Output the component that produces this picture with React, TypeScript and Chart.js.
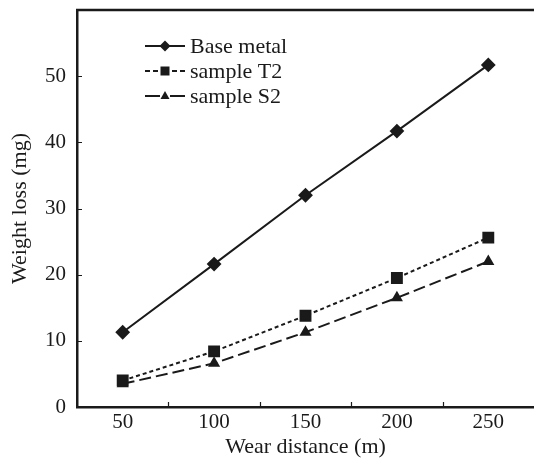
import React, { useEffect, useRef } from "react";
import { Chart, registerables } from "chart.js";

Chart.register(...registerables);

const distances = [50, 100, 150, 200, 250];
const baseMetal = [11.3, 21.6, 32.0, 41.7, 51.7];
const sampleT2 = [4.0, 8.4, 13.8, 19.5, 25.6];
const sampleS2 = [3.5, 6.6, 11.3, 16.5, 22.0];
const seriesNames = ["Base metal", "sample T2", "sample S2"];
const xMinorTicks = [75, 125, 175, 225];
const yTickValues = [10, 20, 30, 40, 50];

const FONT = "'Liberation Serif', 'Times New Roman', serif";
const INK = "#1a1a1a";

const decorPlugin = {
  id: "decor",
  afterDraw(chart: any) {
    const { ctx, chartArea } = chart;
    const xs = chart.scales.x;
    const ys = chart.scales.y;
    ctx.save();
    ctx.strokeStyle = INK;
    // top border
    ctx.lineWidth = 2.5;
    ctx.beginPath();
    ctx.moveTo(chartArea.left - 1, chartArea.top);
    ctx.lineTo(chartArea.right, chartArea.top);
    ctx.stroke();
    // inward ticks
    ctx.lineWidth = 1.2;
    ctx.beginPath();
    for (const v of yTickValues) {
      const y = Math.round(ys.getPixelForValue(v)) + 0.5;
      ctx.moveTo(chartArea.left, y);
      ctx.lineTo(chartArea.left + 5, y);
    }
    for (const v of xMinorTicks) {
      const x = Math.round(xs.getPixelForValue(v)) + 0.5;
      ctx.moveTo(x, chartArea.bottom);
      ctx.lineTo(x, chartArea.bottom - 5);
    }
    ctx.stroke();

    // legend
    const rows = [46, 71, 96];
    const x0 = 145, x1 = 185, xm = 165;
    chart.data.datasets.forEach((ds: any, i: number) => {
      const y = rows[i];
      ctx.strokeStyle = INK;
      ctx.fillStyle = INK;
      ctx.lineWidth = 2;
      ctx.beginPath();
      if (i === 2) {
        ctx.moveTo(x0, y);
        ctx.lineTo(xm - 5, y);
        ctx.moveTo(xm + 5, y);
        ctx.lineTo(x1, y);
      } else if (i === 1) {
        ctx.moveTo(x0, y); ctx.lineTo(x0 + 5, y);
        ctx.moveTo(x0 + 8, y); ctx.lineTo(x0 + 13, y);
        ctx.moveTo(x1 - 13, y); ctx.lineTo(x1 - 8, y);
        ctx.moveTo(x1 - 5, y); ctx.lineTo(x1, y);
      } else {
        ctx.moveTo(x0, y);
        ctx.lineTo(x1, y);
      }
      ctx.stroke();
      ctx.beginPath();
      if (i === 0) {
        ctx.moveTo(xm, y - 5.5); ctx.lineTo(xm + 5.5, y); ctx.lineTo(xm, y + 5.5); ctx.lineTo(xm - 5.5, y);
      } else if (i === 1) {
        ctx.rect(xm - 4.5, y - 4.5, 9, 9);
      } else {
        ctx.moveTo(xm, y - 5); ctx.lineTo(xm + 4.5, y + 3); ctx.lineTo(xm - 4.5, y + 3);
      }
      ctx.closePath();
      ctx.fill();
      ctx.fillStyle = INK;
      ctx.font = `22px ${FONT}`;
      ctx.textBaseline = "middle";
      ctx.textAlign = "left";
      ctx.fillText(ds.label, 190, y + 1);
    });
    ctx.restore();
  },
};

export default function App() {
  const ref = useRef<HTMLCanvasElement>(null);
  useEffect(() => {
    if (!ref.current) return;
    const chart = new Chart(ref.current, {
      type: "line",
      data: {
        datasets: [
          {
            label: seriesNames[0],
            data: distances.map((d, i) => ({ x: d, y: baseMetal[i] })),
            borderColor: INK,
            backgroundColor: INK,
            borderWidth: 2,
            pointStyle: "rectRot",
            pointRadius: 6,
          },
          {
            label: seriesNames[1],
            data: distances.map((d, i) => ({ x: d, y: sampleT2[i] })),
            borderColor: INK,
            backgroundColor: INK,
            borderWidth: 2,
            borderDash: [4, 3],
            pointStyle: "rect",
            pointRadius: 7,
          },
          {
            label: seriesNames[2],
            data: distances.map((d, i) => ({ x: d, y: sampleS2[i] })),
            borderColor: INK,
            backgroundColor: INK,
            borderWidth: 2,
            borderDash: [12, 5],
            pointStyle: "triangle",
            pointRadius: 5,
          },
        ],
      },
      options: {
        animation: false,
        responsive: false,
        layout: { autoPadding: false, padding: { top: 10, right: 0, left: 0, bottom: 0 } },
        plugins: { legend: { display: false }, tooltip: { enabled: false } },
        scales: {
          x: {
            type: "linear",
            min: 25,
            max: 275,
            afterFit: (s: any) => { s.height = 56; s.paddingLeft = 0; s.paddingRight = 0; },
            afterBuildTicks: (s: any) => {
              s.ticks = distances.map((v) => ({ value: v }));
            },
            ticks: {
              color: INK,
              font: { family: FONT, size: 21 },
              padding: 3,
              maxRotation: 0,
              autoSkip: false,
            },
            grid: { display: false, drawTicks: false },
            border: { display: true, color: INK, width: 2.5 },
            title: {
              display: true,
              text: "Wear distance (m)",
              color: INK,
              font: { family: FONT, size: 22 },
              padding: { top: 0, bottom: 3 },
            },
          },
          y: {
            min: 0,
            max: 60,
            afterFit: (s: any) => { s.width = 77; s.paddingTop = 0; s.paddingBottom = 0; },
            afterBuildTicks: (s: any) => {
              s.ticks = [0, ...yTickValues].map((v) => ({ value: v }));
            },
            ticks: {
              color: INK,
              font: { family: FONT, size: 21 },
              padding: 11,
            },
            grid: { display: false, drawTicks: false },
            border: { display: true, color: INK, width: 2.5 },
            title: {
              display: true,
              text: "Weight loss (mg)",
              color: INK,
              font: { family: FONT, size: 22 },
              padding: { top: 7, bottom: 0 },
            },
          },
        },
      },
      plugins: [decorPlugin],
    });
    return () => chart.destroy();
  }, []);
  return (
    <div style={{ position: "fixed", left: 0, top: 0, width: 534, height: 463, background: "#fff" }}>
      <canvas ref={ref} width={534} height={463} style={{ display: "block" }} />
    </div>
  );
}
